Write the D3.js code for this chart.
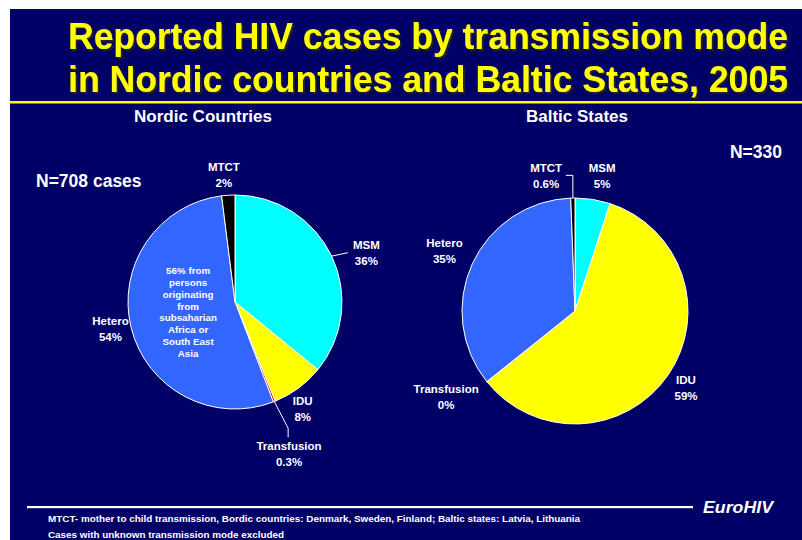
<!DOCTYPE html>
<html>
<head>
<meta charset="utf-8">
<script src="https://cdn.jsdelivr.net/npm/d3@7"></script>
<style>
  html, body { margin: 0; padding: 0; background: #ffffff; }
  svg { display: block; }
  text { font-family: "Liberation Sans", Arial, sans-serif; font-weight: bold; }
</style>
</head>
<body>
<svg id="chart" width="802" height="540"></svg>
<script>
// ---------- DATA ----------
const titleLines = ["Reported HIV cases by transmission mode", "in Nordic countries and Baltic States, 2005"];
const categories = ["MSM", "IDU", "Transfusion", "Hetero", "MTCT"];
const nordicValues = [36, 8, 0.3, 54, 2];
const balticValues = [5, 59, 0, 35, 0.6];
const nordicTitle = "Nordic Countries";
const balticTitle = "Baltic States";
const nordicN = "N=708 cases";
const balticN = "N=330";
const nordicNote = ["56% from", "persons", "originating", "from", "subsaharian", "Africa or", "South East", "Asia"];
const footnotes = ["MTCT- mother to child transmission, Bordic countries: Denmark, Sweden, Finland; Baltic states: Latvia, Lithuania",
                   "Cases with unknown transmission mode excluded"];
const sourceLabel = "EuroHIV";

// ---------- STYLE / LAYOUT ----------
const colors = d3.scaleOrdinal().domain(categories)
  .range(["#00FFFF", "#FFFF00", "#FF0000", "#3366FF", "#000000"]);
const navy = "#000066";
const W = 802, H = 540;
const svg = d3.select("#chart");

const defs = svg.append("defs");
defs.append("filter").attr("id", "shadow").attr("x", "-5%").attr("y", "-20%").attr("width", "110%").attr("height", "140%")
  .append("feDropShadow").attr("dx", 2).attr("dy", 2).attr("stdDeviation", 0.4)
  .attr("flood-color", "#222222").attr("flood-opacity", 1);

svg.append("rect").attr("x", 10).attr("y", 9).attr("width", W - 10).attr("height", H - 9).attr("fill", navy);
svg.append("rect").attr("x", 10).attr("y", 101).attr("width", W - 10).attr("height", 2.5).attr("fill", "#FFFF00");

// Title with shadow
const titleBase = [49, 92];
titleLines.forEach((t, i) => {
  svg.append("text").attr("x", 68).attr("y", titleBase[i])
    .attr("font-size", 36).attr("fill", "#FFFF00").attr("filter", "url(#shadow)")
    .attr("textLength", 720).attr("lengthAdjust", "spacingAndGlyphs").text(t);
});

const deg = Math.PI / 180;
function polar(cx, cy, r, a) { return [cx + r * Math.sin(a), cy - r * Math.cos(a)]; }

function drawPie(opts) {
  const { cx, cy, r, values, title, titleX, layout } = opts;
  const pie = d3.pie().sort(null).value(d => d.v);
  const data = categories.map((c, i) => ({ c, v: values[i] }));
  const arcs = pie(data);
  const arc = d3.arc().innerRadius(0).outerRadius(r);
  const g = svg.append("g").attr("transform", `translate(${cx},${cy})`);
  g.selectAll("path").data(arcs).join("path")
    .attr("d", arc)
    .attr("fill", d => colors(d.data.c))
    .attr("stroke", "#FFFFFF").attr("stroke-width", 1);

  svg.append("text").attr("x", titleX).attr("y", 116).attr("text-anchor", "middle")
    .attr("dominant-baseline", "central").attr("font-size", 17).attr("fill", "#FFFFFF").text(title);

  arcs.forEach(a => {
    const L = layout[a.data.c];
    const mid = (a.startAngle + a.endAngle) / 2;
    const ang = mid + L.da * deg;
    const [lx, ly] = polar(cx, cy, r * L.k, ang);
    const t = svg.append("text").attr("x", lx).attr("y", ly).attr("text-anchor", "middle")
      .attr("font-size", 11.5).attr("fill", "#FFFFFF");
    t.append("tspan").attr("x", lx).attr("y", ly - 8).attr("dominant-baseline", "central").text(a.data.c);
    t.append("tspan").attr("x", lx).attr("y", ly + 8).attr("dominant-baseline", "central").text(a.data.v + "%");
    if (L.leader) {
      const pts = L.leader(cx, cy, r, mid);
      svg.append("path").attr("d", d3.line()(pts)).attr("fill", "none")
        .attr("stroke", "#FFFFFF").attr("stroke-width", 1);
    }
  });
  return arcs;
}

// Nordic
const nordicArcs = drawPie({
  cx: 235, cy: 302, r: 107, values: nordicValues, title: nordicTitle, titleX: 203,
  layout: {
    MSM: { k: 1.31, da: 5, leader: (cx, cy, r, m) => [polar(cx, cy, r, m), polar(cx, cy, r * 1.15, m + 1.8 * deg)] },
    IDU: { k: 1.18, da: 4 },
    Transfusion: { k: 1.51, da: 2, leader: (cx, cy, r, m) => {
      const p1 = polar(cx, cy, r, m), p2 = polar(cx, cy, r * 1.28, m - 1.3 * deg);
      return [p1, p2, [p2[0], p2[1] + 9]]; } },
    Hetero: { k: 1.19, da: 2 },
    MTCT: { k: 1.19, da: -1.4 }
  }
});

// Note inside Hetero slice
{
  const het = nordicArcs.find(a => a.data.c === "Hetero");
  const c = d3.arc().innerRadius(0).outerRadius(107).centroid(het);
  const x0 = 235 + c[0] + 5, y0 = 302 + c[1] - 3;
  const lh = 11.8;
  const t = svg.append("text").attr("text-anchor", "middle").attr("font-size", 9.8).attr("fill", "#FFFFFF");
  nordicNote.forEach((s, i) => {
    t.append("tspan").attr("x", x0).attr("y", y0 + (i - (nordicNote.length - 1) / 2) * lh)
      .attr("dominant-baseline", "central").text(s);
  });
}

svg.append("text").attr("x", 36).attr("y", 181).attr("dominant-baseline", "central")
  .attr("font-size", 17.5).attr("fill", "#FFFFFF").text(nordicN);

// Baltic
drawPie({
  cx: 575, cy: 311, r: 113, values: balticValues, title: balticTitle, titleX: 577,
  layout: {
    MSM: { k: 1.22, da: 2.3 },
    IDU: { k: 1.195, da: 0 },
    Transfusion: { k: 1.37, da: 5 },
    Hetero: { k: 1.27, da: 0 },
    MTCT: { k: 1.22, da: -11, leader: (cx, cy, r, m) => {
      const p1 = polar(cx, cy, r, m);
      const yTop = cy - r * 1.2;
      return [p1, [p1[0], yTop], [p1[0] - 7, yTop]]; } }
  }
});

svg.append("text").attr("x", 782).attr("y", 152).attr("text-anchor", "end").attr("dominant-baseline", "central")
  .attr("font-size", 17.5).attr("fill", "#FFFFFF").text(balticN);

// Footer
svg.append("rect").attr("x", 27).attr("y", 506).attr("width", 666).attr("height", 2.2).attr("fill", "#FFFFFF");
svg.append("text").attr("x", 703).attr("y", 507).attr("dominant-baseline", "central")
  .attr("font-size", 17).attr("font-style", "italic").attr("fill", "#FFFFFF")
  .attr("textLength", 70).attr("lengthAdjust", "spacingAndGlyphs").text(sourceLabel);
const fnLen = [532, 236], fnY = [518.5, 535];
footnotes.forEach((s, i) => {
  svg.append("text").attr("x", 48).attr("y", fnY[i]).attr("dominant-baseline", "central")
    .attr("font-size", 9).attr("fill", "#FFFFFF")
    .attr("textLength", fnLen[i]).attr("lengthAdjust", "spacingAndGlyphs").text(s);
});
</script>
</body>
</html>
